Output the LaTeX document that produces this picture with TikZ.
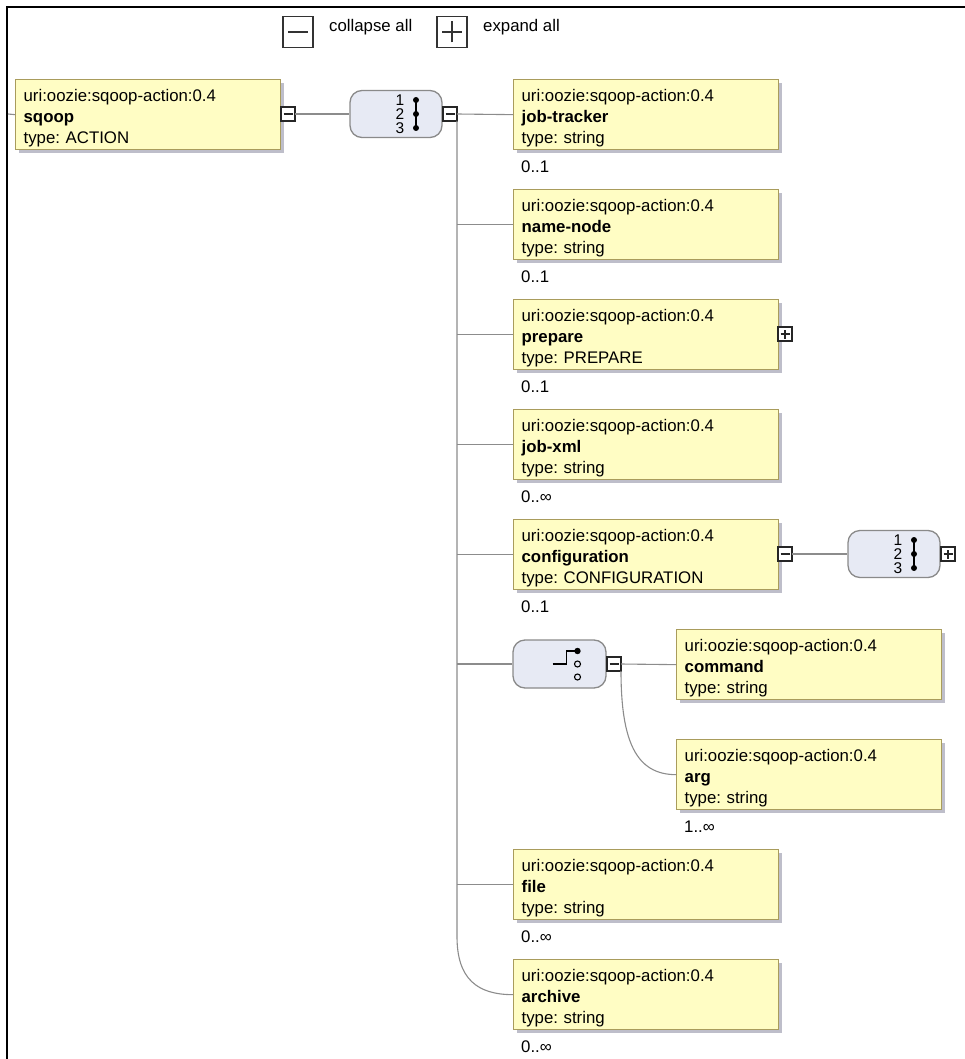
\documentclass[tikz,border=0pt]{standalone}
\usepackage{fontspec}
\setmainfont{Liberation Sans}
\usetikzlibrary{shadows,calc}
\definecolor{boxfill}{HTML}{FFFDC4}
\definecolor{boxborder}{HTML}{A99C5C}
\definecolor{shadowc}{HTML}{A8A8B8}
\definecolor{seqfill}{HTML}{E7EAF4}
\definecolor{seqborder}{HTML}{8A8A8A}
\definecolor{linec}{HTML}{8C8C8C}
\newcommand\boxfont{\fontsize{16.8}{21}\selectfont}
\newcommand\numfont{\fontsize{15.5}{14}\selectfont}
\frenchspacing
\begin{document}
\begin{tikzpicture}[x=1pt,y=-1pt,
  elem/.style={draw=boxborder, fill=boxfill, line width=1.3pt,
    minimum width=265pt, minimum height=70pt, inner xsep=8pt, inner ysep=0pt,
    text width=249pt, align=left, anchor=north west, font=\boxfont,
    execute at begin node={\rule{0pt}{18.3pt}},
    drop shadow={shadow xshift=3.5pt, shadow yshift=-3.5pt, fill=shadowc, opacity=.75}},
  mult/.style={anchor=west, font=\boxfont, inner sep=0pt},
  seqbox/.style={draw=seqborder, fill=seqfill, line width=1.3pt, rounded corners=12pt,
    minimum width=92pt, minimum height=47pt, inner sep=0pt},
  btn/.style={draw=black!85, fill=white, line width=1.1pt, minimum width=14pt,
    minimum height=14pt, inner sep=0pt, outer sep=0pt},
  btnminus/.style={btn, path picture={\draw[line width=1.1pt]
    ([xshift=2.5pt]path picture bounding box.west) -- ([xshift=-2.5pt]path picture bounding box.east);}},
  btnplus/.style={btn, path picture={\draw[line width=1.1pt]
    ([xshift=2.5pt]path picture bounding box.west) -- ([xshift=-2.5pt]path picture bounding box.east)
    ([yshift=2.5pt]path picture bounding box.south) -- ([yshift=-2.5pt]path picture bounding box.north);}},
  bigbtn/.style={draw=black!80, fill=white, line width=1.2pt, minimum width=30pt,
    minimum height=31pt, inner sep=0pt, outer sep=0pt},
  conn/.style={draw=linec, line width=1.1pt},
  hdr/.style={anchor=west, font=\boxfont, inner sep=0pt}
]
\useasboundingbox (0,0) rectangle (965,1059);
\draw[line width=2pt] (965,7) -- (7,7) -- (7,1059);

% header
\node[bigbtn, path picture={\draw[line width=1.2pt]
    ([xshift=5pt]path picture bounding box.west) -- ([xshift=-5pt]path picture bounding box.east);}]
  (collapse) at (298,32) {};
\node[hdr] (collapsetxt) at (329,27) {collapse all};
\node[bigbtn, path picture={\draw[line width=1.2pt]
    ([xshift=5pt]path picture bounding box.west) -- ([xshift=-5pt]path picture bounding box.east)
    ([yshift=5pt]path picture bounding box.south) -- ([yshift=-5pt]path picture bounding box.north);}]
  (expand) at (452,32) {};
\node[hdr] (expandtxt) at (483,27) {expand all};

% elements
\node[elem] (sqoop) at (15,79) {uri:oozie:sqoop-action:0.4\\\textbf{sqoop}\\type: ACTION};
\node[elem] (jt) at (513,79) {uri:oozie:sqoop-action:0.4\\\textbf{job-tracker}\\type: string};
\node[elem] (nn) at (513,189) {uri:oozie:sqoop-action:0.4\\\textbf{name-node}\\type: string};
\node[elem] (prep) at (513,299) {uri:oozie:sqoop-action:0.4\\\textbf{prepare}\\type: PREPARE};
\node[elem] (jx) at (513,409) {uri:oozie:sqoop-action:0.4\\\textbf{job-xml}\\type: string};
\node[elem] (conf) at (513,519) {uri:oozie:sqoop-action:0.4\\\textbf{configuration}\\type: CONFIGURATION};
\node[elem] (cmd) at (676,629) {uri:oozie:sqoop-action:0.4\\\textbf{command}\\type: string};
\node[elem] (arg) at (676,739) {uri:oozie:sqoop-action:0.4\\\textbf{arg}\\type: string};
\node[elem] (file) at (513,849) {uri:oozie:sqoop-action:0.4\\\textbf{file}\\type: string};
\node[elem] (arch) at (513,959) {uri:oozie:sqoop-action:0.4\\\textbf{archive}\\type: string};

% multiplicities
\node[mult] (jtm) at ($(jt.south west)+(8,16)$) {0..1};
\node[mult] (nnm) at ($(nn.south west)+(8,16)$) {0..1};
\node[mult] (prepm) at ($(prep.south west)+(8,16)$) {0..1};
\node[mult] (jxm) at ($(jx.south west)+(8,16)$) {0..∞};
\node[mult] (confm) at ($(conf.south west)+(8,16)$) {0..1};
\node[mult] (argm) at ($(arg.south west)+(8,16)$) {1..∞};
\node[mult] (filem) at ($(file.south west)+(8,16)$) {0..∞};
\node[mult] (archm) at ($(arch.south west)+(8,16)$) {0..∞};

% compositors
\node[seqbox] (seq1) at (396,114) {};
\node[seqbox] (seq2) at (894,554) {};
\node[seqbox, minimum width=93pt, minimum height=48pt] (choice) at (559.5,664) {};

\foreach \s in {seq1,seq2}{
  \begin{scope}[shift={(\s.center)}]
    \node[font=\numfont, align=center, inner sep=0pt] (\s nums) at (4,0.5) {1\\2\\3};
    \draw[line width=2pt] (20,-14) -- (20,14);
    \fill (20,-14) circle (3pt) (20,0) circle (3pt) (20,14) circle (3pt);
  \end{scope}
}
\begin{scope}[shift={(choice.center)}]
  \draw[line width=1.4pt] (-7,0) -- (7,0) -- (7,-13) -- (18,-13);
  \fill (18,-13) circle (3.2pt);
  \draw[line width=1.1pt] (18,0) circle (3pt) (18,13) circle (3pt);
\end{scope}

% buttons
\node[btnminus] (b0) at (288,114) {};
\node[btnminus] (b1) at (450,114) {};
\node[btnplus] (bprep) at (785,334) {};
\node[btnminus] (bconf) at (785,554) {};
\node[btnplus] (bseq2) at (948,554) {};
\node[btnminus] (bch) at (614,664) {};

% connectors
\coordinate (in) at (8,114);
\draw[conn] (in) -- (sqoop.west);
\draw[conn] (b0.east) -- (seq1.west);
\draw[conn] (b1.east) -- (jt.west);
\draw[conn] (b1.south east) -- ($(b1.east |- arch.west)+(0,-58)$)
  .. controls +(0,42) and +(-36,0) .. (arch.west);
\foreach \n in {nn,prep,jx,conf,choice,file}
  \draw[conn] (b1.east |- \n.west) -- (\n.west);
\draw[conn] (bconf.east) -- (seq2.west);
\draw[conn] (bch.east) -- (cmd.west);
\draw[conn] (bch.south east) .. controls +(0,70) and +(-40,0) .. (arg.west);
\end{tikzpicture}
\end{document}
